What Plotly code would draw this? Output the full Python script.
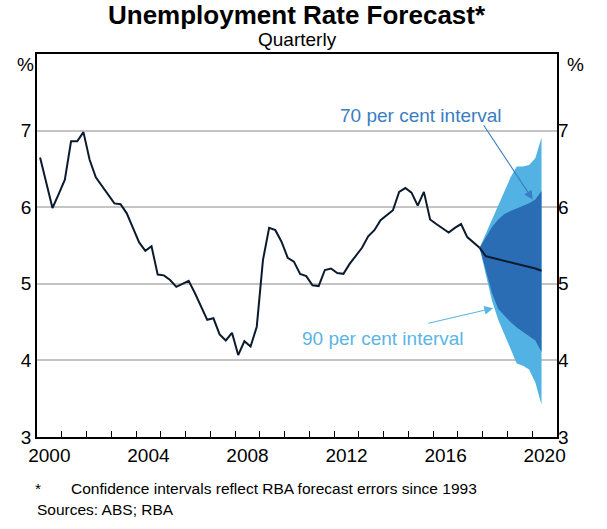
import plotly.graph_objects as go

# quarterly unemployment rate, per cent
hist_quarters = [f"{y}-Q{q}" for y in range(2000, 2018) for q in range(1, 5)]
hist_rate = [
    6.65, 6.32, 5.99, 6.17, 6.36, 6.86, 6.86, 6.98,
    6.62, 6.39, 6.28, 6.16, 6.05, 6.04, 5.92, 5.73,
    5.54, 5.43, 5.49, 5.12, 5.11, 5.05, 4.96, 5.00,
    5.04, 4.88, 4.70, 4.53, 4.55, 4.34, 4.26, 4.36,
    4.07, 4.25, 4.18, 4.44, 5.31, 5.73, 5.70, 5.55,
    5.34, 5.29, 5.13, 5.10, 4.98, 4.97, 5.18, 5.20,
    5.14, 5.13, 5.26, 5.36, 5.47, 5.62, 5.70, 5.83,
    5.89, 5.96, 6.20, 6.25, 6.19, 6.02, 6.20, 5.84,
    5.78, 5.73, 5.67, 5.73, 5.78, 5.61, 5.54, 5.47,
]

# forecast and confidence intervals
fc_quarters = ["2018-Q1", "2018-Q2", "2018-Q3", "2018-Q4", "2019-Q1",
               "2019-Q2", "2019-Q3", "2019-Q4", "2020-Q1", "2020-Q2"]
fc_central = [5.36, 5.34, 5.32, 5.30, 5.28, 5.27, 5.25, 5.22, 5.20, 5.17]
upper_90 = [5.65, 5.83, 6.02, 6.20, 6.39, 6.53, 6.53, 6.55, 6.64, 6.91]
upper_70 = [5.60, 5.74, 5.84, 5.91, 5.95, 5.98, 6.01, 6.05, 6.10, 6.21]
lower_70 = [5.17, 4.88, 4.67, 4.58, 4.50, 4.43, 4.37, 4.32, 4.26, 4.11]
lower_90 = [5.12, 4.78, 4.53, 4.34, 4.14, 3.96, 3.93, 3.88, 3.71, 3.42]

year_labels = ["2000", "2004", "2008", "2012", "2016", "2020"]
y_ticks = [3, 4, 5, 6, 7]

LIGHT = "#52b2e3"
DARK = "#2a6db5"
LINE = "#0c1a2e"
FONT = "Liberation Sans, Arial, sans-serif"


def qpos(label):
    # quarter plotted at its mid point on a decimal-year axis
    y, q = label.split("-Q")
    return int(y) + (int(q) - 0.5) / 4


hx = [qpos(q) for q in hist_quarters]
fx = [hx[-1]] + [qpos(q) for q in fc_quarters]
last = hist_rate[-1]

fig = go.Figure()

# 90 per cent band
fig.add_trace(go.Scatter(x=fx, y=[last] + lower_90, mode="lines",
                         line=dict(width=0), hoverinfo="skip"))
fig.add_trace(go.Scatter(x=fx, y=[last] + upper_90, mode="lines",
                         line=dict(width=0), fill="tonexty",
                         fillcolor=LIGHT, hoverinfo="skip"))
# 70 per cent band
fig.add_trace(go.Scatter(x=fx, y=[last] + lower_70, mode="lines",
                         line=dict(width=0), hoverinfo="skip"))
fig.add_trace(go.Scatter(x=fx, y=[last] + upper_70, mode="lines",
                         line=dict(width=0), fill="tonexty",
                         fillcolor=DARK, hoverinfo="skip"))

# history + central forecast
fig.add_trace(go.Scatter(x=hx, y=hist_rate, mode="lines",
                         line=dict(color=LINE, width=2)))
fig.add_trace(go.Scatter(x=fx, y=[last] + fc_central, mode="lines",
                         line=dict(color=LINE, width=2), yaxis="y2"))

axis_font = dict(family=FONT, size=19, color="black")

fig.update_layout(
    width=607, height=529,
    margin=dict(l=37, r=50, t=54, b=92),
    paper_bgcolor="white", plot_bgcolor="white",
    showlegend=False,
    font=dict(family=FONT, color="black"),
    xaxis=dict(
        range=[2000, 2021], tickmode="array", automargin=False,
        tickvals=[int(y) + 0.5 for y in year_labels], ticktext=year_labels,
        ticks="", tickfont=axis_font, showgrid=False, zeroline=False,
        showline=True, linecolor="black", linewidth=1.5, mirror=True,
        minor=dict(tickmode="array", tickvals=list(range(2001, 2021)),
                   ticks="inside", ticklen=6, tickcolor="black",
                   tickwidth=1, showgrid=False),
    ),
    yaxis=dict(
        range=[3, 8], tickmode="array", tickvals=y_ticks, automargin=False,
        ticks="", tickfont=axis_font, showgrid=True,
        gridcolor="#c4c4c4", gridwidth=1.5, zeroline=False,
        showline=True, linecolor="black", linewidth=1.5, mirror=True,
    ),
    yaxis2=dict(
        range=[3, 8], tickmode="array", tickvals=y_ticks, automargin=False,
        overlaying="y", side="right", ticks="", tickfont=axis_font,
        showgrid=False, zeroline=False, showline=False,
    ),
)

annotations = [
    dict(text="<b>Unemployment Rate Forecast*</b>", x=0.5, y=1.101,
         font=dict(size=26)),
    dict(text="Quarterly", x=0.5, y=1.037, font=dict(size=19)),
    dict(text="%", x=-0.0225, y=0.972, font=dict(size=19)),
    dict(text="%", x=1.0365, y=0.972, font=dict(size=19)),
    dict(text="*", x=0.0012, y=-0.1355, font=dict(size=15.5)),
    dict(text="Confidence intervals reflect RBA forecast errors since 1993",
         x=0.0607, y=-0.1355, xanchor="left", font=dict(size=15.5)),
    dict(text="Sources: ABS; RBA", x=-0.0033, y=-0.1895, xanchor="left",
         font=dict(size=15.5)),
]
for a in annotations:
    a.setdefault("xanchor", "center")
    fig.add_annotation(xref="paper", yref="paper", yanchor="middle",
                       showarrow=False, **a)

# interval labels and arrows
fig.add_annotation(x=2015.5, y=7.20, text="70 per cent interval",
                   showarrow=False, font=dict(size=19, color="#3a7dc2"))
fig.add_annotation(x=2013.97, y=4.29, text="90 per cent interval",
                   showarrow=False, font=dict(size=19, color="#5bb5e3"))
fig.add_annotation(x=2020.02, y=6.10, ax=2018.0, ay=7.09,
                   xref="x", yref="y", axref="x", ayref="y", text="",
                   showarrow=True, arrowhead=2, arrowsize=1.6,
                   arrowwidth=1.1, arrowcolor="#3a7dc2", standoff=0)
fig.add_annotation(x=2018.42, y=4.68, ax=2015.74, ay=4.48,
                   xref="x", yref="y", axref="x", ayref="y", text="",
                   showarrow=True, arrowhead=2, arrowsize=1.6,
                   arrowwidth=1.1, arrowcolor="#5bb5e3", standoff=0)

# the page body has a default 8px margin; drop it so the figure sits at 0,0
fig.write_html("out.html", config={"displayModeBar": False},
               post_script="document.body.style.margin='0';")
